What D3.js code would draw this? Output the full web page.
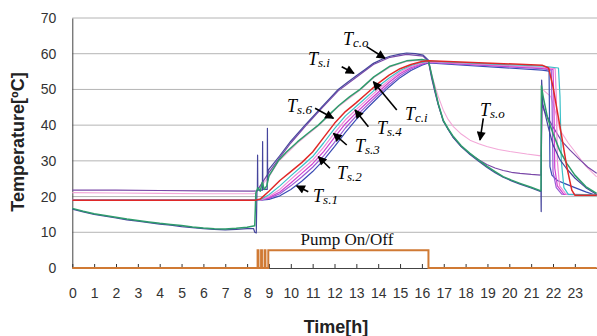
<!DOCTYPE html>
<html>
<head>
<meta charset="utf-8">
<script src="https://cdn.jsdelivr.net/npm/d3@7"></script>
<style>
body { margin: 0; background: #fff; }
svg { display: block; }
</style>
</head>
<body>
<svg id="chart"></svg>
<script>
var width = 597;
var height = 336;
var svg = d3.select("#chart").attr("width", width).attr("height", height);

// x ticks (hours) and y ticks (deg C)
var hourTicks = d3.range(0, 24);
var tempTicks = [0, 10, 20, 30, 40, 50, 60, 70];

// series: [hour, temperature]
var tso = [[0,21.1],[2,21],[4,20.9],[6,20.8],[8.3,20.8],[8.4,21],[8.5,22],[9,25.5],[9.43,29.8],[10.3,35],[11.26,39.8],[12.2,45.3],[13.17,49.8],[13.8,53.3],[14.54,56.3],[15.3,57.8],[16,58.2],[16.3,57.8],[16.5,53],[16.75,48],[16.98,44.2],[17.2,41.6],[17.44,39.6],[17.8,37.5],[18.2,35.8],[18.6,34.8],[18.97,34],[19.5,33.2],[20.03,32.6],[20.8,31.9],[21.45,31.4],[21.52,50],[21.9,48],[22.1,44],[22.32,38.6],[22.7,35],[23.08,32],[23.5,28.5],[24,25.5]];
var tsi = [[0,21.8],[2,21.8],[4,21.7],[6,21.6],[8.3,21.5],[8.45,21.6],[8.97,26.5],[9.5,31],[10,35],[10.65,39.6],[11.4,44.6],[12.17,49.6],[13,53.4],[13.78,57],[14.54,59],[15.3,59.8],[16.06,59.3],[16.3,57.8],[16.45,53],[16.6,49.2],[16.75,45.6],[16.98,41.1],[17.44,36.5],[17.8,34],[18.2,31.9],[18.6,30.3],[18.97,29],[19.35,28],[19.72,27.3],[20.1,26.8],[20.49,26.5],[21,26.2],[21.45,26],[21.5,46],[21.6,44],[22,39.5],[22.4,35.5],[22.78,33],[23.2,30.5],[23.6,28.2],[24,26.5]];
var ts1 = [[0,19],[8.6,19],[9,19.2],[9.5,20.2],[10,22],[10.5,24.3],[11,27],[11.5,30.2],[12,34],[12.5,38],[13,41.6],[13.5,44.8],[14,47.8],[14.5,50.7],[15,53.3],[15.5,55.3],[16,56.8],[16.3,57.4],[21.5,55.4],[21.82,55.1],[21.86,28.4],[21.95,26],[22.2,24.5],[22.6,23.5],[23,22.5],[23.5,21.3],[24,20.3]];
var ts2 = [[0,19],[8.6,19],[9,19.5],[9.5,20.8],[10,23],[10.5,25.5],[11,28.2],[11.5,31.4],[12,35.2],[12.5,39.2],[13,42.6],[13.5,45.6],[14,48.5],[14.5,51.3],[15,53.8],[15.5,55.7],[16,57],[16.3,57.6],[21.5,55.8],[21.92,55.4],[21.96,45],[22,27],[22.15,22.5],[22.4,20.7],[24,20.5]];
var ts3 = [[0,19],[8.6,19],[9,19.7],[9.5,21.3],[10,23.8],[10.5,26.5],[11,29.2],[11.5,32.6],[12,36.6],[12.5,40.4],[13,43.5],[13.5,46.4],[14,49.2],[14.5,52],[15,54.4],[15.5,56.1],[16,57.2],[16.3,57.7],[21.5,56],[22,55.6],[22.04,47],[22.08,28],[22.2,23],[22.5,20.6],[24,20.5]];
var ts4 = [[0,19],[8.6,19],[9,20],[9.5,22],[10,24.8],[10.5,27.5],[11,30.2],[11.5,33.8],[12,37.8],[12.5,41.5],[13,44.4],[13.5,47.2],[14,50],[14.5,52.6],[15,54.9],[15.5,56.4],[16,57.4],[16.3,57.8],[21.5,56.2],[22.1,55.8],[22.15,48],[22.2,30],[22.3,23],[22.6,20.6],[24,20.5]];
var ts5 = [[0,19],[8.4,19],[8.6,19.1],[9,20.5],[9.5,23],[10,25.8],[10.5,28.5],[11,31.2],[11.5,35],[12,39],[12.5,42.6],[13,45.3],[13.5,48],[14,50.8],[14.5,53.2],[15,55.3],[15.5,56.7],[16,57.6],[16.3,57.9],[21.5,56.5],[22.25,56],[22.32,48],[22.38,30],[22.5,22.5],[22.7,20.6],[24,20.5]];
var ts6 = [[0,19],[8.4,19],[8.6,19.3],[9,21.5],[9.5,24.5],[10,27],[10.5,29.5],[11,32.5],[11.5,36.5],[12,40.5],[12.5,43.8],[13,46.3],[13.5,49],[14,51.7],[14.5,54],[15,55.8],[15.5,57],[16,57.8],[16.3,58],[21.5,56.8],[21.8,56],[22,50.8],[22.24,42.4],[22.4,36.8],[22.63,28.4],[22.86,21.8],[23,20.4],[24,20.4]];
var tci = [[0,16.7],[0.5,15.9],[1,15.2],[1.5,14.7],[2,14.2],[2.5,13.7],[3,13.3],[3.5,12.9],[4,12.5],[4.5,12.2],[5,11.9],[5.5,11.5],[6,11.2],[6.5,11],[7,10.9],[7.5,11.1],[8,11.4],[8.35,11.8],[8.4,21],[8.5,22.5],[8.6,21.5],[8.7,24],[8.78,22],[8.9,23],[9,25.8],[9.43,30],[9.8,32.5],[10.3,35.3],[10.8,37.8],[11.26,40],[11.7,42.6],[12.2,45.5],[12.7,48],[13.17,50],[13.8,53.5],[14.54,56.5],[15.3,58],[16,58.4],[16.3,58],[16.45,54],[16.6,50],[16.75,46],[16.98,41.3],[17.2,39],[17.44,36.8],[17.8,34.2],[18.2,32.1],[18.6,30.2],[18.97,28.5],[19.35,27],[19.72,25.6],[20.1,24.6],[20.49,23.7],[21,22.6],[21.45,21.6],[21.47,51],[21.55,48],[21.75,42],[22,37.7],[22.3,33],[22.63,29.3],[23,26],[23.5,22.8],[24,20.9]];
var tco = [[0,16.5],[0.5,15.7],[1,15],[1.5,14.5],[2,14],[2.5,13.5],[3,13.1],[3.5,12.7],[4,12.3],[4.5,12],[5,11.6],[5.5,11.3],[6,11],[6.5,10.8],[7,10.7],[7.5,10.8],[8,11],[8.3,11],[8.35,10],[8.42,9.8],[8.45,21.5],[8.47,21.8],[8.48,31.6],[8.49,21.8],[8.7,21.8],[8.71,35.4],[8.72,22],[8.92,22],[8.93,39.1],[8.94,24.5],[8.97,27.4],[9.5,31.5],[10,35.5],[10.65,40],[11.4,45],[12.17,50],[12.6,52],[13,53.8],[13.4,55.6],[13.78,57.3],[14.15,58.4],[14.54,59.3],[15,59.9],[15.3,60.2],[15.7,60],[16.06,59.6],[16.3,58.2],[16.45,53.5],[16.6,49.5],[16.75,45.8],[16.98,41.2],[17.2,38.8],[17.44,36.5],[17.8,34],[18.2,31.8],[18.6,29.9],[18.97,28.2],[19.35,26.7],[19.72,25.4],[20.1,24.4],[20.49,23.5],[21,22.4],[21.45,21.4],[21.46,15.8],[21.48,52.6],[21.53,46],[21.8,39],[22,34.5],[22.3,30.5],[22.6,28],[23,25.2],[23.5,22.5],[24,20.6]];
var pump = [[0,0],[8.48,0],[8.48,5],[8.52,5],[8.52,0],[8.64,0],[8.64,5],[8.68,5],[8.68,0],[8.8,0],[8.8,5],[8.84,5],[8.84,0],[8.97,0],[8.97,5],[16.3,5],[16.3,0],[24,0]];

var series = [
    {name: "Ts.o", data: tso, colour: "#f3a8d8", w: 1.1},
    {name: "Ts.i", data: tsi, colour: "#7a48a8", w: 1.2},
    {name: "Ts.1", data: ts1, colour: "#3a4cb4", w: 1.2},
    {name: "Ts.2", data: ts2, colour: "#9a5ad6", w: 1.2},
    {name: "Ts.3", data: ts3, colour: "#d040d0", w: 1.2},
    {name: "Ts.4", data: ts4, colour: "#f08ad8", w: 1.2},
    {name: "Ts.5", data: ts5, colour: "#3cc0c8", w: 1.2},
    {name: "Tc.o", data: tco, colour: "#45459c", w: 1.2},
    {name: "Tc.i", data: tci, colour: "#2e9c6c", w: 1.5},
    {name: "Ts.6", data: ts6, colour: "#e02828", w: 1.5}
];

// annotations: label position and arrow tail -> tip, in data units
var labels = [
    {main: "T", sub: "c.o", h: 12.39, t: 62.4, from: [13.47, 61.97], to: [14.31, 58.72]},
    {main: "T", sub: "s.i", h: 10.79, t: 56.8, from: [12.33, 56.37], to: [12.89, 54.52]},
    {main: "T", sub: "s.6", h: 9.83, t: 43.7, from: [11.11, 44.72], to: [11.95, 41.92]},
    {main: "T", sub: "c.i", h: 15.23, t: 41.4, from: [14.85, 44.24], to: [13.78, 52.17]},
    {main: "T", sub: "s.4", h: 13.94, t: 37.5, from: [13.55, 39.56], to: [12.94, 44.24]},
    {main: "T", sub: "s.3", h: 12.94, t: 32.5, from: [12.56, 34.44], to: [11.95, 37.72]},
    {main: "T", sub: "s.2", h: 12.11, t: 24.9, from: [11.79, 27.92], to: [11.26, 31.16]},
    {main: "T", sub: "s.1", h: 11.02, t: 18.5, from: [10.8, 21.36], to: [10.27, 22.96]},
    {main: "T", sub: "s.o", h: 18.66, t: 42.6, from: [18.81, 41.92], to: [18.66, 35.84]}
];

var scaleX = d3.scaleLinear().domain([0, 24]).range([72.3, 596.7]);
var scaleY = d3.scaleLinear().domain([0, 70]).range([268, 18]);

// grid
svg.append("g").selectAll("line").data(tempTicks.filter(function(d) {return d > 0;}))
    .enter().append("line")
    .attr("x1", scaleX(0)).attr("x2", width)
    .attr("y1", function(d) {return scaleY(d);})
    .attr("y2", function(d) {return scaleY(d);})
    .attr("stroke", "#b4b4b4").attr("stroke-width", 1);

// y axis
var axisY = d3.axisLeft(scaleY).tickValues(tempTicks).tickSize(0).tickPadding(16);
var gY = svg.append("g").attr("transform", "translate(" + scaleX(0) + ",0)").call(axisY);
gY.select(".domain").attr("stroke", "#444");
gY.selectAll("text").attr("font-family", "Liberation Sans, Arial").attr("font-size", "14px").attr("fill", "#333");

// x axis, ticks pointing up
var axisX = d3.axisBottom(scaleX).tickValues(hourTicks).tickSizeInner(-4).tickSizeOuter(0).tickPadding(20);
var gX = svg.append("g").attr("transform", "translate(0," + scaleY(0) + ")").call(axisX);
gX.select(".domain").attr("stroke", "#444");
gX.selectAll(".tick line").attr("stroke", "#333");
gX.selectAll("text").attr("font-family", "Liberation Sans, Arial").attr("font-size", "14px").attr("fill", "#333");

var line = d3.line()
    .x(function(d) {return scaleX(d[0]);})
    .y(function(d) {return scaleY(d[1]);});

// pump on/off
svg.append("path").datum(pump).attr("d", line)
    .attr("fill", "none").attr("stroke", "#d07a34").attr("stroke-width", 2);

svg.append("g").selectAll("path").data(series).enter().append("path")
    .attr("d", function(d) {return line(d.data);})
    .attr("fill", "none")
    .attr("stroke", function(d) {return d.colour;})
    .attr("stroke-width", function(d) {return d.w;})
    .attr("stroke-linejoin", "round");

svg.append("text").text("Pump On/Off")
    .attr("x", scaleX(12.57)).attr("y", scaleY(6.4))
    .attr("text-anchor", "middle")
    .attr("font-family", "Liberation Serif, Times New Roman").attr("font-size", "17px")
    .attr("fill", "#111");

// arrows
svg.append("defs").append("marker")
    .attr("id", "head").attr("viewBox", "0 0 10 10")
    .attr("refX", 9).attr("refY", 5)
    .attr("markerWidth", 10).attr("markerHeight", 9)
    .attr("markerUnits", "userSpaceOnUse")
    .attr("orient", "auto")
    .append("path").attr("d", "M0,0L10,5L0,10Z").attr("fill", "#000");

svg.append("g").selectAll("line").data(labels).enter().append("line")
    .attr("x1", function(d) {return scaleX(d.from[0]);})
    .attr("y1", function(d) {return scaleY(d.from[1]);})
    .attr("x2", function(d) {return scaleX(d.to[0]);})
    .attr("y2", function(d) {return scaleY(d.to[1]);})
    .attr("stroke", "#000").attr("stroke-width", 1.6)
    .attr("marker-end", "url(#head)");

var lab = svg.append("g").selectAll("text").data(labels).enter().append("text")
    .attr("x", function(d) {return scaleX(d.h);})
    .attr("y", function(d) {return scaleY(d.t);})
    .attr("font-family", "Liberation Serif, Times New Roman")
    .attr("font-style", "italic")
    .attr("fill", "#000");
lab.append("tspan").text(function(d) {return d.main;}).attr("font-size", "18px");
lab.append("tspan").text(function(d) {return d.sub;}).attr("font-size", "13px").attr("dy", 2);

// axis titles
svg.append("text").text("Time[h]")
    .attr("x", 336).attr("y", 333)
    .attr("text-anchor", "middle")
    .attr("font-family", "Liberation Sans, Arial").attr("font-weight", "bold")
    .attr("font-size", "18px").attr("fill", "#222");

svg.append("text").text("Temperature[ºC]")
    .attr("transform", "rotate(-90, 24, 142)")
    .attr("x", 24).attr("y", 142)
    .attr("text-anchor", "middle")
    .attr("font-family", "Liberation Sans, Arial").attr("font-weight", "bold")
    .attr("font-size", "18px").attr("fill", "#222");
</script>
</body>
</html>
